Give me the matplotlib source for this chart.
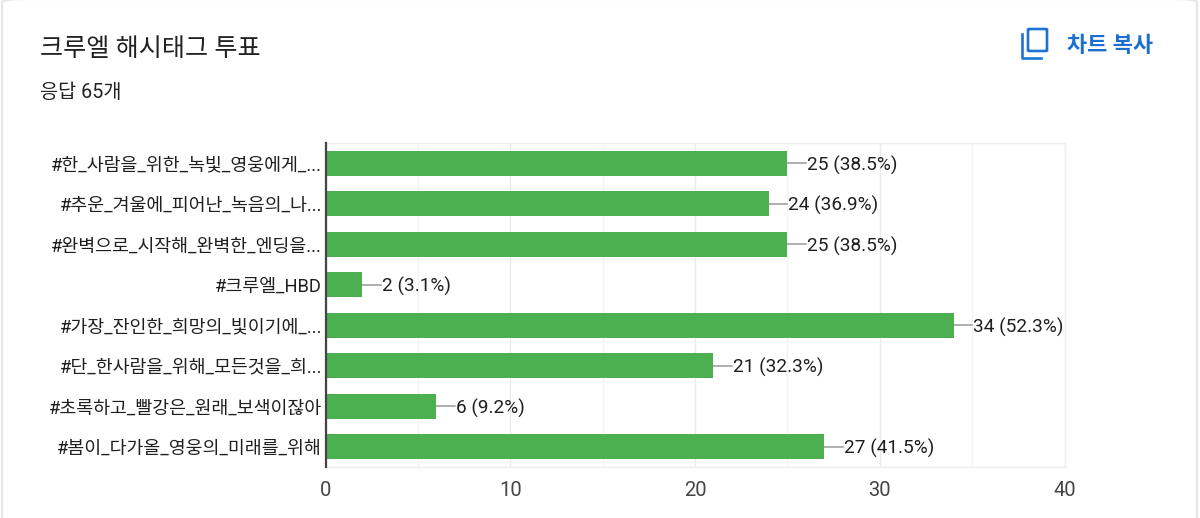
import matplotlib
matplotlib.use("Agg")
import matplotlib.pyplot as plt
from matplotlib.patches import FancyBboxPatch
from matplotlib.lines import Line2D

plt.rcParams['font.family'] = ['Roboto', 'Noto Sans CJK KR', 'DejaVu Sans']

title = "크루엘 해시태그 투표"
subtitle = "응답 65개"
copy_label = "차트 복사"
categories = ["#한_사람을_위한_녹빛_영웅에게_...", "#추운_겨울에_피어난_녹음의_나...",
              "#완벽으로_시작해_완벽한_엔딩을...", "#크루엘_HBD",
              "#가장_잔인한_희망의_빛이기에_...", "#단_한사람을_위해_모든것을_희...",
              "#초록하고_빨강은_원래_보색이잖아", "#봄이_다가올_영웅의_미래를_위해"]
counts = [25, 24, 25, 2, 34, 21, 6, 27]
percents = ["38.5", "36.9", "38.5", "3.1", "52.3", "32.3", "9.2", "41.5"]
major_ticks = [0, 10, 20, 30, 40]
minor_ticks = [5, 15, 25, 35]

W, H = 1200, 518
fig = plt.figure(figsize=(W / 100, H / 100), dpi=100, facecolor='white')

# card outline
fig.add_artist(FancyBboxPatch((2 / W, -0.2), 1195 / W, 1.2 + 1 / H,
                              boxstyle="round,pad=0,rounding_size=0.016",
                              transform=fig.transFigure, fc='white', ec='#e6e6e6', lw=1.6,
                              mutation_aspect=H / W, zorder=-5))

ax = fig.add_axes([325.5 / W, 1 - 467 / H, (1064.5 - 325.5) / W, (467 - 143) / H], zorder=2)
ax.patch.set_alpha(0)
y = list(range(len(categories)))
ax.barh(y, counts, height=0.62, color='#4caf50', zorder=3)
ax.set_ylim(len(categories) - 0.5, -0.5)
ax.set_xlim(0, 40)
ax.set_xticks(major_ticks)
ax.set_xticks(minor_ticks, minor=True)
ax.grid(True, axis='x', which='major', color='#ebebeb', lw=1.0, zorder=0)
ax.grid(True, axis='x', which='minor', color='#f4f4f4', lw=1.0, zorder=0)
ax.tick_params(axis='both', which='both', length=0)
ax.tick_params(axis='x', labelsize=14.5, labelcolor='#444444', pad=10)
ax.set_yticks(y)
ax.set_yticklabels(categories, fontsize=13.25, color='#1f1f1f')
ax.tick_params(axis='y', pad=2.5)
for s in ['top', 'right', 'bottom']:
    ax.spines[s].set_color('#eeeeee')
    ax.spines[s].set_linewidth(1.0)
ax.spines['left'].set_color('#444444')
ax.spines['left'].set_linewidth(1.6)
ax.spines['left'].set_zorder(5)

for yi, c, p in zip(y, counts, percents):
    ax.plot([c, c + 1.0], [yi, yi], color='#9a9a9a', lw=1.1, zorder=2, clip_on=False)
    ax.annotate(f"{c} ({p}%)", xy=(c + 1.05, yi), xytext=(0, -1.2), textcoords='offset points',
                va='center', ha='left', fontsize=13.7, color='#1f1f1f')

fig.text(40 / W, 1 - 49.5 / H, title, fontsize=18.1, color='#222222', va='center', ha='left')
fig.text(40 / W, 1 - 92 / H, subtitle, fontsize=14.2, color='#222222', va='center', ha='left')
fig.text(1067 / W, 1 - 45.5 / H, copy_label, fontsize=15.8, color='#1a6fd0', va='center', ha='left',
         fontweight='bold')

# copy icon
blue = '#1f74d2'
fig.add_artist(FancyBboxPatch((1028 / W, 1 - 51 / H), 19 / W, 22 / H,
                              boxstyle="round,pad=0,rounding_size=0.002",
                              transform=fig.transFigure, fc='none', ec=blue, lw=1.9,
                              mutation_aspect=H / W))
fig.add_artist(Line2D([1022 / W, 1022 / W, 1041 / W], [1 - 34 / H, 1 - 58 / H, 1 - 58 / H],
                      transform=fig.transFigure, color=blue, lw=1.9,
                      solid_joinstyle='round'))

fig.savefig("out.png", dpi=100)
